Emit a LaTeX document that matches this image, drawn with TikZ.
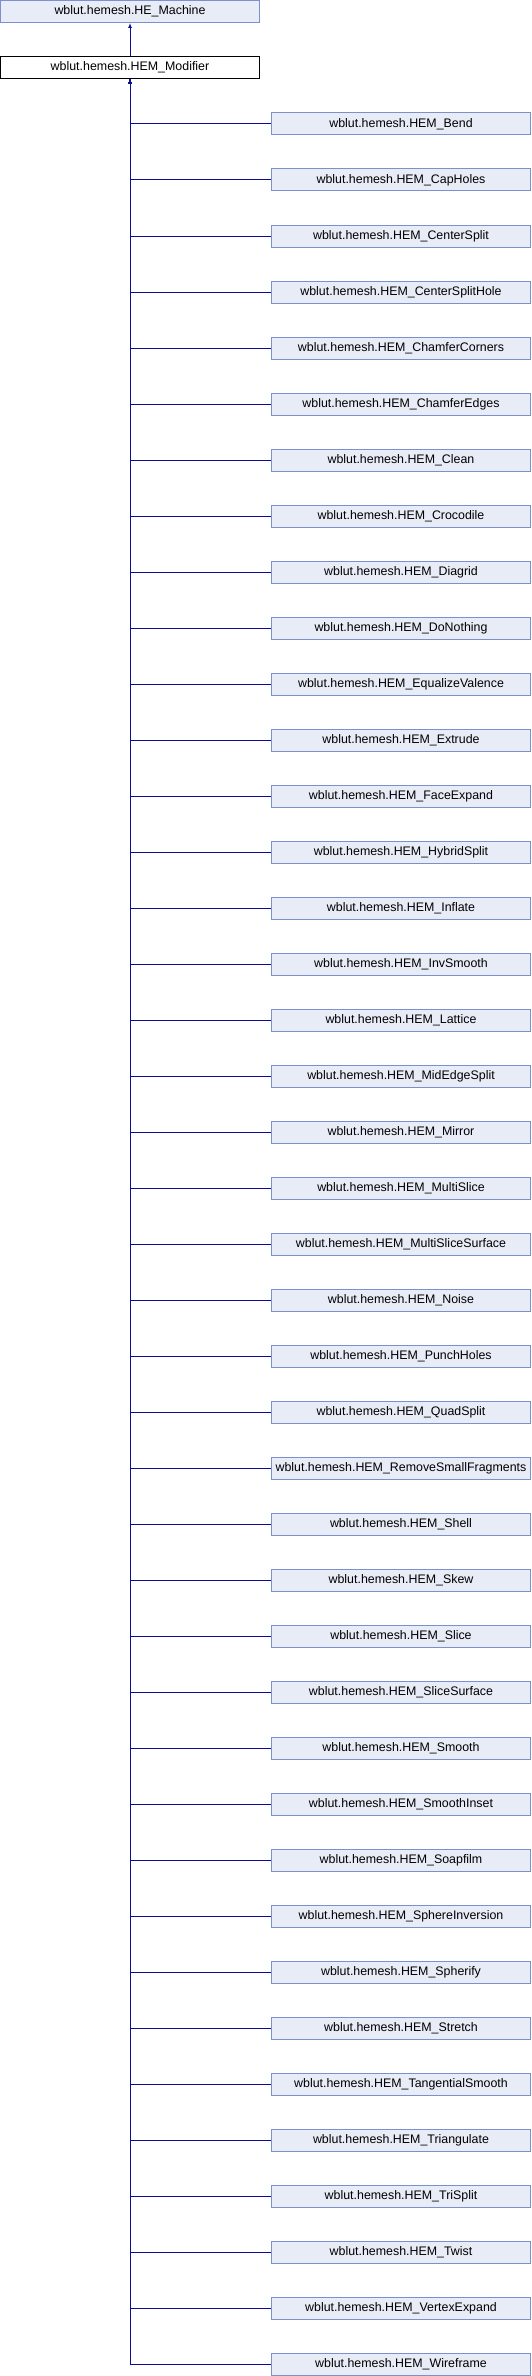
\documentclass[tikz,border=0pt]{standalone}
\usepackage{fontspec}
\setmainfont{Liberation Sans}
\usepackage{tikz}
\usetikzlibrary{arrows.meta, positioning}

\definecolor{boxfill}{HTML}{E8ECF6}
\definecolor{boxline}{HTML}{7B90CC}
\definecolor{edgeblue}{HTML}{0C0C94}

\tikzset{
  cls/.style={draw=boxline, fill=boxfill, line width=1pt, minimum width=259pt, minimum height=22pt, inner sep=0pt, font=\fontsize{12.4}{14}\selectfont},
  cur/.style={cls, draw=black, fill=white},
  inh/.style={draw=edgeblue, line width=1pt, {Latex[length=5pt,width=4pt]}-}
}

\begin{document}
\begin{tikzpicture}[x=1pt,y=1pt]
\useasboundingbox (0,0) rectangle (532,-2376);
\node[cls] (mach) at (130,-11.5) {wblut.hemesh.HE\_Machine};
\node[cur] (mod) at (130,-67.5) {wblut.hemesh.HEM\_Modifier};

\node[cls] (bend) at (401,-124) {wblut.hemesh.HEM\_Bend};
\node[cls] (capholes) at (401,-180) {wblut.hemesh.HEM\_CapHoles};
\node[cls] (centersplit) at (401,-236) {wblut.hemesh.HEM\_CenterSplit};
\node[cls] (centersplithole) at (401,-292) {wblut.hemesh.HEM\_CenterSplitHole};
\node[cls] (chamfercorners) at (401,-348) {wblut.hemesh.HEM\_ChamferCorners};
\node[cls] (chamferedges) at (401,-404) {wblut.hemesh.HEM\_ChamferEdges};
\node[cls] (clean) at (401,-460) {wblut.hemesh.HEM\_Clean};
\node[cls] (crocodile) at (401,-516) {wblut.hemesh.HEM\_Crocodile};
\node[cls] (diagrid) at (401,-572) {wblut.hemesh.HEM\_Diagrid};
\node[cls] (donothing) at (401,-628) {wblut.hemesh.HEM\_DoNothing};
\node[cls] (equalize) at (401,-684) {wblut.hemesh.HEM\_EqualizeValence};
\node[cls] (extrude) at (401,-740) {wblut.hemesh.HEM\_Extrude};
\node[cls] (faceexpand) at (401,-796) {wblut.hemesh.HEM\_FaceExpand};
\node[cls] (hybridsplit) at (401,-852) {wblut.hemesh.HEM\_HybridSplit};
\node[cls] (inflate) at (401,-908) {wblut.hemesh.HEM\_Inflate};
\node[cls] (invsmooth) at (401,-964) {wblut.hemesh.HEM\_InvSmooth};
\node[cls] (lattice) at (401,-1020) {wblut.hemesh.HEM\_Lattice};
\node[cls] (midedgesplit) at (401,-1076) {wblut.hemesh.HEM\_MidEdgeSplit};
\node[cls] (mirror) at (401,-1132) {wblut.hemesh.HEM\_Mirror};
\node[cls] (multislice) at (401,-1188) {wblut.hemesh.HEM\_MultiSlice};
\node[cls] (multislicesurf) at (401,-1244) {wblut.hemesh.HEM\_MultiSliceSurface};
\node[cls] (noise) at (401,-1300) {wblut.hemesh.HEM\_Noise};
\node[cls] (punchholes) at (401,-1356) {wblut.hemesh.HEM\_PunchHoles};
\node[cls] (quadsplit) at (401,-1412) {wblut.hemesh.HEM\_QuadSplit};
\node[cls] (removesmall) at (401,-1468) {wblut.hemesh.HEM\_RemoveSmallFragments};
\node[cls] (shell) at (401,-1524) {wblut.hemesh.HEM\_Shell};
\node[cls] (skew) at (401,-1580) {wblut.hemesh.HEM\_Skew};
\node[cls] (slice) at (401,-1636) {wblut.hemesh.HEM\_Slice};
\node[cls] (slicesurf) at (401,-1692) {wblut.hemesh.HEM\_SliceSurface};
\node[cls] (smooth) at (401,-1748) {wblut.hemesh.HEM\_Smooth};
\node[cls] (smoothinset) at (401,-1804) {wblut.hemesh.HEM\_SmoothInset};
\node[cls] (soapfilm) at (401,-1860) {wblut.hemesh.HEM\_Soapfilm};
\node[cls] (sphereinv) at (401,-1916) {wblut.hemesh.HEM\_SphereInversion};
\node[cls] (spherify) at (401,-1972) {wblut.hemesh.HEM\_Spherify};
\node[cls] (stretch) at (401,-2028) {wblut.hemesh.HEM\_Stretch};
\node[cls] (tangsmooth) at (401,-2084) {wblut.hemesh.HEM\_TangentialSmooth};
\node[cls] (triangulate) at (401,-2140) {wblut.hemesh.HEM\_Triangulate};
\node[cls] (trisplit) at (401,-2196) {wblut.hemesh.HEM\_TriSplit};
\node[cls] (twist) at (401,-2252) {wblut.hemesh.HEM\_Twist};
\node[cls] (vertexexpand) at (401,-2308) {wblut.hemesh.HEM\_VertexExpand};
\node[cls] (wireframe) at (401,-2364) {wblut.hemesh.HEM\_Wireframe};

% inheritance
\draw[inh] (mach) -- (mod);
\draw[inh] (mod.south) |- (bend.west);
\draw[inh] (mod.south) |- (capholes.west);
\draw[inh] (mod.south) |- (centersplit.west);
\draw[inh] (mod.south) |- (centersplithole.west);
\draw[inh] (mod.south) |- (chamfercorners.west);
\draw[inh] (mod.south) |- (chamferedges.west);
\draw[inh] (mod.south) |- (clean.west);
\draw[inh] (mod.south) |- (crocodile.west);
\draw[inh] (mod.south) |- (diagrid.west);
\draw[inh] (mod.south) |- (donothing.west);
\draw[inh] (mod.south) |- (equalize.west);
\draw[inh] (mod.south) |- (extrude.west);
\draw[inh] (mod.south) |- (faceexpand.west);
\draw[inh] (mod.south) |- (hybridsplit.west);
\draw[inh] (mod.south) |- (inflate.west);
\draw[inh] (mod.south) |- (invsmooth.west);
\draw[inh] (mod.south) |- (lattice.west);
\draw[inh] (mod.south) |- (midedgesplit.west);
\draw[inh] (mod.south) |- (mirror.west);
\draw[inh] (mod.south) |- (multislice.west);
\draw[inh] (mod.south) |- (multislicesurf.west);
\draw[inh] (mod.south) |- (noise.west);
\draw[inh] (mod.south) |- (punchholes.west);
\draw[inh] (mod.south) |- (quadsplit.west);
\draw[inh] (mod.south) |- (removesmall.west);
\draw[inh] (mod.south) |- (shell.west);
\draw[inh] (mod.south) |- (skew.west);
\draw[inh] (mod.south) |- (slice.west);
\draw[inh] (mod.south) |- (slicesurf.west);
\draw[inh] (mod.south) |- (smooth.west);
\draw[inh] (mod.south) |- (smoothinset.west);
\draw[inh] (mod.south) |- (soapfilm.west);
\draw[inh] (mod.south) |- (sphereinv.west);
\draw[inh] (mod.south) |- (spherify.west);
\draw[inh] (mod.south) |- (stretch.west);
\draw[inh] (mod.south) |- (tangsmooth.west);
\draw[inh] (mod.south) |- (triangulate.west);
\draw[inh] (mod.south) |- (trisplit.west);
\draw[inh] (mod.south) |- (twist.west);
\draw[inh] (mod.south) |- (vertexexpand.west);
\draw[inh] (mod.south) |- (wireframe.west);
\end{tikzpicture}
\end{document}
